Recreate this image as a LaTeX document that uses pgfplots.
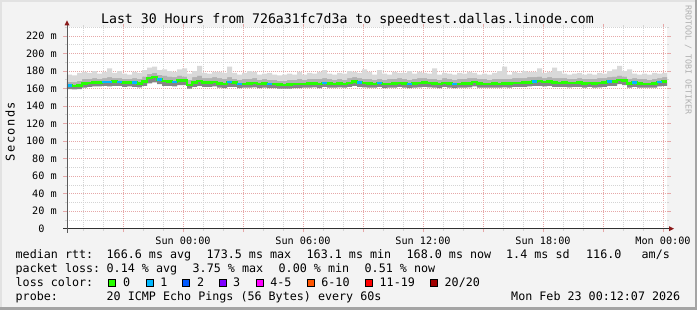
\documentclass[border=0pt]{standalone}
\usepackage{fontspec}
\setmainfont{DejaVu Sans Mono}
\setmonofont{DejaVu Sans Mono}
\newfontfamily\dvm{DejaVu Sans Mono}
\newfontfamily\dvmls[LetterSpace=12]{DejaVu Sans Mono}
\usepackage{pgfplots}
\pgfplotsset{compat=1.18}
\usepackage{pgfplotstable}
\usetikzlibrary{arrows.meta}
\definecolor{bgc}{HTML}{F3F3F3}
\definecolor{shA}{HTML}{E2E2E2}
\definecolor{shB}{HTML}{A4A4A4}
\definecolor{mgrid}{HTML}{E6A8A8}
\definecolor{mingrid}{HTML}{D4D4D4}
\definecolor{smokeL}{HTML}{D9D9D9}
\definecolor{smokeM}{HTML}{B2B2B2}
\definecolor{smokeD}{HTML}{858585}
\definecolor{loss0}{HTML}{26FF00}
\definecolor{loss1}{HTML}{00B8FF}
\definecolor{loss2}{HTML}{0059FF}
\definecolor{loss3}{HTML}{7E00FF}
\definecolor{loss4}{HTML}{FF00FF}
\definecolor{loss6}{HTML}{FF5500}
\definecolor{loss11}{HTML}{FF0000}
\definecolor{loss20}{HTML}{A10000}
\definecolor{axc}{HTML}{303030}
\definecolor{arrc}{HTML}{8B1A1A}
\definecolor{wmc}{HTML}{B0B0B0}

\pgfplotstableread{
x med lo mid hi
-5.80 163.5 159.5 168 176
-5.55 163 159 167.5 175
-5.30 163.5 159.5 169 178
-5.05 166 161 171 179
-4.80 166.5 162 171 178
-4.55 167 162.5 172 180
-4.30 167 162.5 171 177
-4.05 167.5 163 172 179
-3.80 167.5 162.5 173 183
-3.55 168 163 172 178
-3.30 167.5 163 172 180
-3.05 167 162 171 177
-2.80 167 162.5 171 176
-2.55 167 162 172 179
-2.30 166 161.5 171 178
-2.05 168 163 174 181
-1.80 172 166 177 184
-1.55 173.5 167 178 185
-1.30 170.5 165 176 181
-1.05 168.5 163 175 182
-0.80 168 163 174 180
-0.55 167.5 162.5 173 179
-0.30 169.5 164 175 182
-0.05 169.5 164 174 183
0.20 164 160 170 177
0.45 167 162 173 180
0.70 168.5 163 175 186
0.95 167 162 172 178
1.20 167 162 172 177
1.45 167.5 162.5 173 179
1.70 166 161 172 179
1.95 165 160.5 171 178
2.20 167.5 162 173 185
2.45 167 162 171 178
2.70 165 160.5 170 176
2.95 165.5 161 171 178
3.20 166 161 171 180
3.45 166.5 161.5 172 179
3.70 165 160.5 170 176
3.95 166 161 171 177
4.20 165 160.5 170 178
4.45 165 160.5 170 176
4.70 164.5 160 169 175
4.95 164 160 169 176
5.20 164.5 160 170 177
5.45 165 160.5 170 176
5.70 165 160.5 171 179
5.95 165.5 161 170 176
6.20 166 161 171 178
6.45 166 161.5 171 177
6.70 165 160.5 171 179
6.95 166.5 162 172 181
7.20 166 161 171 177
7.45 165.5 161 170 176
7.70 166 161.5 171 178
7.95 165.5 161 170 177
8.20 166.5 162 172 180
8.45 168 163 173 179
8.70 167 162 172 178
8.95 166.5 161.5 171 182
9.20 166 161 171 179
9.45 165.5 161 170 176
9.70 166.5 162 171 181
9.95 165 160.5 170 177
10.20 165.5 161 171 176
10.45 166 161 171 179
10.70 166.5 162 172 178
10.95 166 161 171 178
11.20 165 160.5 170 180
11.45 166 161 171 177
11.70 166.5 161.5 172 179
11.95 167 162 172 178
12.20 166.5 161.5 171 177
12.45 166 161 171 183
12.70 165 160.5 170 176
12.95 166.5 162 172 178
13.20 166 161 171 177
13.45 165 160.5 170 176
13.70 165.5 161 171 178
13.95 166 161 171 177
14.20 166 161.5 172 179
14.45 167.5 162.5 172 178
14.70 166 161 171 176
14.95 165.5 161 171 177
15.20 165.5 161 170 176
15.45 166 161 171 178
15.70 165.5 161 171 180
15.95 166 161.5 171 185
16.20 166 161 171 176
16.45 166.5 162 172 179
16.70 166.5 162 172 178
16.95 167 162 172 180
17.20 167 162.5 173 179
17.45 168 163 173 179
17.70 168.5 163 174 183
17.95 167.5 162.5 172 178
18.20 168 163 173 179
18.45 167 162 172 184
18.70 166.5 162 172 180
18.95 167 162 172 177
19.20 166.5 161.5 171 176
19.45 166.5 162 171 177
19.70 167 162 172 178
19.95 166 161 171 176
20.20 166.5 162 171 177
20.45 166 161 171 176
20.70 166.5 161.5 172 178
20.95 167 162 172 177
21.20 168 163 173 180
21.45 168 163 174 182
21.70 170 165 175 186
21.95 169 164 174 180
22.20 166 161 171 182
22.45 167 162 172 177
22.70 166 161 171 176
22.95 165.5 161 171 177
23.20 165.5 161 170 176
23.45 166 161 171 178
23.70 167.5 162.5 172 177
23.95 168 163 173 178
24.20 168 163 173 178
}\smoke

\begin{document}
\begin{tikzpicture}
\path[use as bounding box] (0,0) rectangle (697pt,310pt);
\fill[bgc] (0,0) rectangle (697pt,310pt);
\fill[shA] (0,307.5pt) rectangle (697pt,310pt);
\fill[shA] (0,0) rectangle (2pt,310pt);
\fill[shB] (694.6pt,0) rectangle (697pt,310pt);
\fill[shB] (0,0) rectangle (697pt,3pt);

\begin{axis}[
  name=ax,
  at={(67pt,81.3pt)}, anchor=south west,
  scale only axis, width=600pt, height=201.4pt,
  xmin=-5.8, xmax=24.2, ymin=0, ymax=230,
  axis background/.style={fill=white},
  axis line style={draw=none},
  xtick={0,6,12,18,24},
  xticklabels={Sun 00:00,Sun 06:00,Sun 12:00,Sun 18:00,Mon 00:00},
  extra x ticks={-3,3,9,15,21},
  extra x tick style={grid=major, xticklabel={}},
  minor xtick={-5,-4,...,24},
  ytick={0,20,...,220},
  yticklabels={0\phantom{\ m},20 m,40 m,60 m,80 m,100 m,120 m,140 m,160 m,180 m,200 m,220 m},
  minor ytick={10,30,...,230},
  grid=both,
  major grid style={draw=mgrid, line width=0.8pt, dash pattern=on 1pt off 1pt},
  minor grid style={draw=mingrid, line width=0.8pt, dash pattern=on 1pt off 1pt},
  tick align=outside,
  major tick length=3.5pt, minor tick length=2pt,
  major tick style={draw=mgrid, line width=0.8pt},
  minor tick style={draw=mingrid, line width=0.8pt},
  x tick label style={font=\fontsize{10.2}{12}\dvm, anchor=base, inner sep=0pt, yshift=-12pt},
  y tick label style={font=\fontsize{10.2}{12}\dvm, anchor=east, inner sep=0pt, xshift=-6.5pt},
]
\addplot[stack plots=y, draw=none, const plot, forget plot] table[x=x, y=lo]{\smoke};
\addplot[stack plots=y, draw=none, fill=smokeD, const plot, forget plot] table[x=x, y expr=\thisrow{med}-\thisrow{lo}]{\smoke} \closedcycle;
\addplot[stack plots=y, draw=none, fill=smokeM, const plot, forget plot] table[x=x, y expr=\thisrow{mid}-\thisrow{med}]{\smoke} \closedcycle;
\addplot[stack plots=y, draw=none, fill=smokeL, const plot, forget plot] table[x=x, y expr=\thisrow{hi}-\thisrow{mid}]{\smoke} \closedcycle;
\addplot[stack plots=false, loss0, line width=2.5pt, const plot] table[x=x, y=med]{\smoke};
\addplot[stack plots=false, loss1, line width=2.5pt, unbounded coords=jump] coordinates {
(-5.80,163.5) (-5.55,163.5) (-5.5,nan)
(-4.05,167.5) (-3.55,167.5) (-3.5,nan)
(-3.30,167.5) (-3.05,167.5) (-3.0,nan)
(-2.55,167) (-2.30,167) (-2.2,nan)
(-1.30,170.5) (-1.05,170.5) (-1.0,nan)
(-0.55,167.5) (-0.30,167.5) (-0.2,nan)
(2.20,167.5) (2.45,167.5) (2.5,nan)
(2.70,165) (2.95,165) (3.0,nan)
(4.20,165) (4.45,165) (4.5,nan)
(6.95,166.5) (7.20,166.5) (7.3,nan)
(8.70,167) (8.95,167) (9.0,nan)
(9.70,166.5) (9.95,166.5) (10.0,nan)
(11.20,165) (11.45,165) (11.5,nan)
(13.45,165) (13.70,165) (13.8,nan)
(17.45,168) (17.70,168) (17.8,nan)
(21.20,168) (21.45,168) (21.5,nan)
(22.45,167) (22.70,167) (22.8,nan)
(23.70,167.5) (23.95,167.5)
};
\end{axis}

% axis lines with arrows
\draw[axc, line width=1.1pt] ([xshift=-4pt]ax.south west) -- ([xshift=3pt]ax.south east);
\fill[arrc] ([xshift=7pt]ax.south east) -- ++(-5pt,2.5pt) -- ++(0,-5pt) -- cycle;
\draw[axc!80, line width=1pt] ([yshift=-4pt]ax.south west) -- ([yshift=3pt]ax.north west);
\fill[arrc] ([yshift=7pt]ax.north west) -- ++(2.5pt,-5pt) -- ++(-5pt,0) -- cycle;

% title
\node[anchor=base, inner sep=0pt, font=\fontsize{13.2}{15}\dvm] at (347.5pt,286pt)
  {Last 30 Hours from 726a31fc7d3a to speedtest.dallas.linode.com};
% y label
\node[anchor=base, inner sep=0pt, rotate=90, font=\fontsize{12}{14}\dvmls] at (14.7pt,178.3pt) {Seconds};
% watermark
\node[anchor=base, inner sep=0pt, rotate=-90, text=wmc, font=\fontsize{8.3}{10}\dvm] at (685.5pt,250pt) {RRDTOOL / TOBI OETIKER};

% legend
\begin{scope}[every node/.style={anchor=base west, inner sep=0pt, font=\fontsize{11.7}{14}\dvm}]
\node at (15.5pt,51.5pt) {median rtt:};
\node at (106.5pt,51.5pt) {166.6 ms avg};
\node at (206.5pt,51.5pt) {173.5 ms max};
\node at (306.5pt,51.5pt) {163.1 ms min};
\node at (406.5pt,51.5pt) {168.0 ms now};
\node at (506pt,51.5pt) {1.4 ms sd};
\node at (586pt,51.5pt) {116.0};
\node at (641.5pt,51.5pt) {am/s};
\node at (15.5pt,37.5pt) {packet loss:};
\node at (106.5pt,37.5pt) {0.14 \% avg};
\node at (192.5pt,37.5pt) {3.75 \% max};
\node at (278.5pt,37.5pt) {0.00 \% min};
\node at (364.5pt,37.5pt) {0.51 \% now};
\node at (15.5pt,23.5pt) {loss color:};
\node at (122.8pt,23.5pt) {0};
\node at (160.2pt,23.5pt) {1};
\node at (196.8pt,23.5pt) {2};
\node at (232.8pt,23.5pt) {3};
\node at (270.2pt,23.5pt) {4-5};
\node at (321.2pt,23.5pt) {6-10};
\node at (379.5pt,23.5pt) {11-19};
\node at (444.5pt,23.5pt) {20/20};
\node at (15.5pt,9.8pt) {probe:};
\node at (106.5pt,9.8pt) {20 ICMP Echo Pings (56 Bytes) every 60s};
\node[anchor=base east] at (680.5pt,9.8pt) {Mon Feb 23 00:12:07 2026};
\end{scope}
\foreach \bx/\bc in {108.7/loss0,146/loss1,182.7/loss2,219.3/loss3,256.7/loss4,307.3/loss6,365.3/loss11,430.7/loss20}{
  \filldraw[fill=\bc, draw=black, line width=0.9pt] (\bx pt,23.8pt) rectangle ++(7.2pt,7.2pt);
}
\end{tikzpicture}
\end{document}
